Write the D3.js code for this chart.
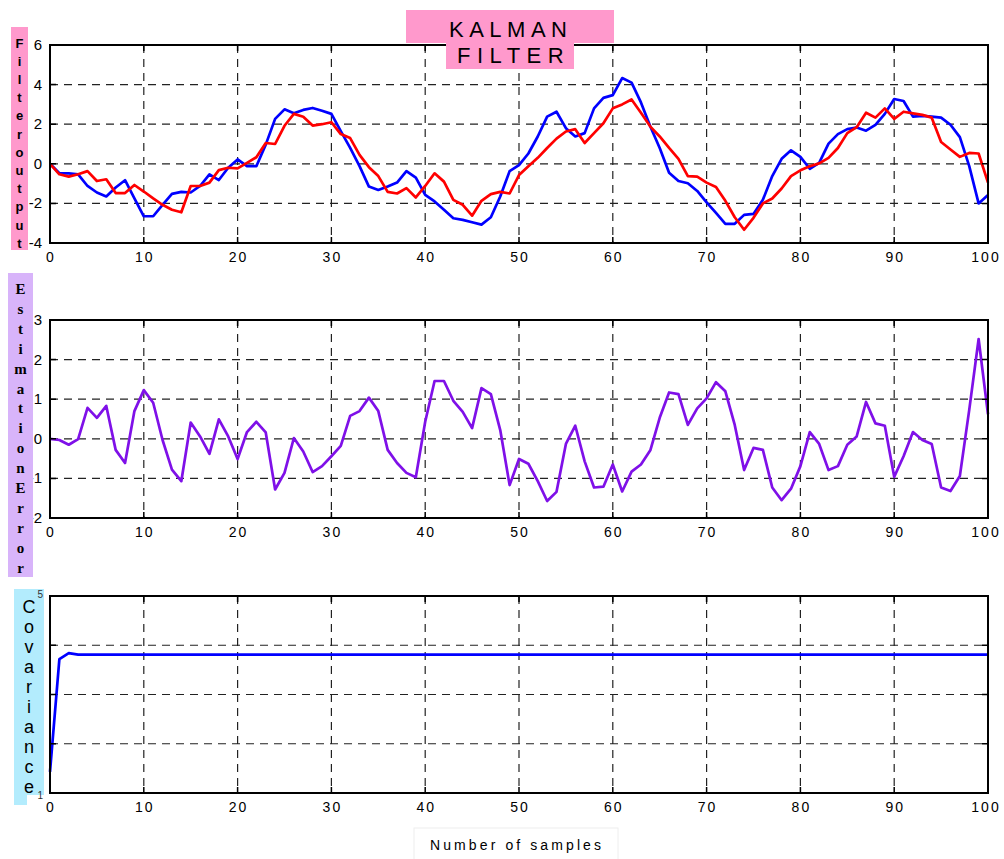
<!DOCTYPE html>
<html>
<head>
<meta charset="utf-8">
<script src="https://cdn.jsdelivr.net/npm/d3@7"></script>
<style>
  body { margin: 0; background: #fff; }
  svg { display: block; }
</style>
</head>
<body>
<svg></svg>
<script>
// filter output, blue = measured, red = filtered
const filterBlue = [
    0, -0.48, -0.48, -0.53, -1.12, -1.45, -1.65, -1.2, -0.83, -1.75,
    -2.65, -2.65, -2.07, -1.52, -1.42, -1.45, -1.12, -0.53, -0.82, -0.2,
    0.22, -0.12, -0.12, 0.97, 2.27, 2.75, 2.55, 2.72, 2.82, 2.68,
    2.52, 1.65, 0.8, -0.12, -1.15, -1.32, -1.15, -0.95, -0.37, -0.7,
    -1.57, -1.9, -2.32, -2.75, -2.83, -2.95, -3.07, -2.7, -1.65, -0.37,
    -0.07, 0.52, 1.38, 2.38, 2.63, 1.8, 1.38, 1.55, 2.8, 3.33,
    3.47, 4.33, 4.1, 3.1, 1.88, 0.8, -0.45, -0.87, -0.98, -1.37,
    -1.95, -2.48, -3.03, -3.03, -2.58, -2.53, -1.82, -0.62, 0.25, 0.68,
    0.35, -0.25, 0.05, 1.02, 1.5, 1.75, 1.83, 1.67, 1.97, 2.52,
    3.27, 3.17, 2.38, 2.42, 2.38, 2.33, 1.97, 1.35, -0.12, -2.0,
    -1.58
];
const filterRed = [
    0, -0.53, -0.65, -0.53, -0.37, -0.87, -0.78, -1.48, -1.48, -1.07,
    -1.4, -1.75, -2.07, -2.32, -2.45, -1.12, -1.12, -0.95, -0.32, -0.2,
    -0.23, 0.05, 0.33, 1.05, 1.0, 1.92, 2.52, 2.38, 1.93, 2.0,
    2.1, 1.5, 1.3, 0.45, -0.17, -0.62, -1.42, -1.5, -1.23, -1.7,
    -1.12, -0.48, -0.9, -1.82, -2.07, -2.62, -1.87, -1.53, -1.42, -1.5,
    -0.57, -0.12, 0.3, 0.8, 1.27, 1.63, 1.75, 1.05, 1.55, 2.05,
    2.8, 3.0, 3.25, 2.58, 1.88, 1.38, 0.8, 0.25, -0.62, -0.65,
    -0.95, -1.17, -1.87, -2.7, -3.33, -2.73, -2.0, -1.75, -1.25, -0.62,
    -0.33, -0.12, 0.02, 0.3, 0.8, 1.55, 1.85, 2.58, 2.33, 2.8,
    2.27, 2.63, 2.55, 2.47, 2.33, 1.1, 0.72, 0.35, 0.55, 0.52,
    -0.95
];
const estError = [
    0, -0.03, -0.15, -0.01, 0.78, 0.53, 0.83, -0.28, -0.61, 0.7,
    1.23, 0.91, -0.03, -0.78, -1.07, 0.41, 0.06, -0.38, 0.49, 0.06,
    -0.51, 0.17, 0.43, 0.16, -1.28, -0.86, 0.02, -0.32, -0.84, -0.69,
    -0.44, -0.18, 0.58, 0.7, 1.04, 0.7, -0.28, -0.61, -0.86, -0.97,
    0.43, 1.46, 1.46, 0.96, 0.68, 0.27, 1.28, 1.13, 0.22, -1.17,
    -0.51, -0.63, -1.07, -1.57, -1.34, -0.13, 0.33, -0.57, -1.23, -1.21,
    -0.65, -1.33, -0.83, -0.65, -0.29, 0.53, 1.17, 1.13, 0.35, 0.77,
    1.02, 1.43, 1.2, 0.35, -0.79, -0.23, -0.28, -1.23, -1.55, -1.26,
    -0.69, 0.17, -0.13, -0.79, -0.69, -0.15, 0.06, 0.93, 0.39, 0.33,
    -0.96, -0.44, 0.17, -0.03, -0.13, -1.23, -1.32, -0.94, 0.73, 2.52,
    0.62
];
const covariance = [
    0.143, 0.372, 0.384, 0.381, 0.381, 0.381, 0.381, 0.381, 0.381, 0.381,
    0.381, 0.381, 0.381, 0.381, 0.381, 0.381, 0.381, 0.381, 0.381, 0.381,
    0.381, 0.381, 0.381, 0.381, 0.381, 0.381, 0.381, 0.381, 0.381, 0.381,
    0.381, 0.381, 0.381, 0.381, 0.381, 0.381, 0.381, 0.381, 0.381, 0.381,
    0.381, 0.381, 0.381, 0.381, 0.381, 0.381, 0.381, 0.381, 0.381, 0.381,
    0.381, 0.381, 0.381, 0.381, 0.381, 0.381, 0.381, 0.381, 0.381, 0.381,
    0.381, 0.381, 0.381, 0.381, 0.381, 0.381, 0.381, 0.381, 0.381, 0.381,
    0.381, 0.381, 0.381, 0.381, 0.381, 0.381, 0.381, 0.381, 0.381, 0.381,
    0.381, 0.381, 0.381, 0.381, 0.381, 0.381, 0.381, 0.381, 0.381, 0.381,
    0.381, 0.381, 0.381, 0.381, 0.381, 0.381, 0.381, 0.381, 0.381, 0.381,
    0.381
];

const xTicks = [0, 10, 20, 30, 40, 50, 60, 70, 80, 90, 100];
const filterTicks = [6, 4, 2, 0, -2, -4];
const errorTicks = [3, 2, 1, 0, -1, -2];
const covTicks = [0.5, 0.4, 0.3, 0.2, 0.1];

const titleLines = ["KALMAN", "FILTER"];
const xLabel = "Number of samples";

var svgWidth = 1004,
    svgHeight = 859;

var svg = d3.select("svg")
    .attr("width", svgWidth)
    .attr("height", svgHeight);

svg.append("rect").attr("width", svgWidth).attr("height", svgHeight).attr("fill", "#fff");

// same x scale for all three panels
var x = d3.scaleLinear().domain([0, 100]).range([50, 988]);

var line = (y) => d3.line()
    .x((d, i) => x(i))
    .y((d) => y(d));

function panel(top, bottom, domain, ticks, series, showYLabels) {
    var y = d3.scaleLinear().domain(domain).range([bottom, top]);
    var g = svg.append("g");

    // grid
    g.selectAll(".vgrid")
        .data(xTicks.slice(1, -1))
        .enter().append("line")
        .attr("x1", d => x(d)).attr("x2", d => x(d))
        .attr("y1", top).attr("y2", bottom)
        .attr("stroke", "#222").attr("stroke-width", 1.2)
        .attr("stroke-dasharray", "8,6");
    g.selectAll(".hgrid")
        .data(ticks.slice(1, -1))
        .enter().append("line")
        .attr("x1", x(0)).attr("x2", x(100))
        .attr("y1", d => y(d)).attr("y2", d => y(d))
        .attr("stroke", "#222").attr("stroke-width", 1.2)
        .attr("stroke-dasharray", "8,6");

    // lines
    series.forEach(s => {
        g.append("path")
            .attr("fill", "none")
            .attr("stroke", s.color)
            .attr("stroke-width", 2.7)
            .attr("stroke-linejoin", "round")
            .attr("d", line(y)(s.values));
    });

    // frame and inner ticks
    g.append("rect")
        .attr("x", x(0)).attr("y", top)
        .attr("width", x(100) - x(0)).attr("height", bottom - top)
        .attr("fill", "none").attr("stroke", "#000").attr("stroke-width", 2);

    g.selectAll(".xt").data(xTicks).enter().append("path")
        .attr("d", d => `M${x(d)},${bottom}v-6M${x(d)},${top}v6`)
        .attr("stroke", "#000").attr("stroke-width", 1.5);
    g.selectAll(".yt").data(ticks).enter().append("path")
        .attr("d", d => `M${x(0)},${y(d)}h6M${x(100)},${y(d)}h-6`)
        .attr("stroke", "#000").attr("stroke-width", 1.5);

    // tick labels
    g.selectAll(".xl").data(xTicks).enter().append("text")
        .attr("x", d => x(d) + (d === 100 ? -2 : 1))
        .attr("y", bottom + 19)
        .attr("text-anchor", "middle")
        .attr("font-family", "Liberation Sans, Arial, sans-serif")
        .attr("font-size", 14)
        .attr("letter-spacing", 2)
        .text(d => d);
    if (showYLabels) {
        g.selectAll(".yl").data(ticks).enter().append("text")
            .attr("x", 42)
            .attr("y", d => y(d) + 5)
            .attr("text-anchor", "end")
            .attr("font-family", "Liberation Sans, Arial, sans-serif")
            .attr("font-size", 15)
            .text(d => d);
    }
    return y;
}

panel(45, 243, [-4, 6], filterTicks, [
    { color: "#0000ff", values: filterBlue },
    { color: "#ff0000", values: filterRed }
], true);
panel(320, 518, [-2, 3], errorTicks, [
    { color: "#7f10e8", values: estError }
], true);
var yCov = panel(596, 793, [0.1, 0.5], covTicks, [
    { color: "#0000ff", values: covariance }
], false);

// vertical axis titles, one letter per line
function sideLabel(text, box, cx, y0, step, font) {
    svg.append("rect")
        .attr("x", box[0]).attr("y", box[1])
        .attr("width", box[2]).attr("height", box[3])
        .attr("fill", box[4]);
    svg.append("g").selectAll("text")
        .data(text.split(""))
        .enter().append("text")
        .attr("x", cx)
        .attr("y", (d, i) => y0 + i * step)
        .attr("text-anchor", "middle")
        .attr("dominant-baseline", "central")
        .attr("font-family", font.family)
        .attr("font-weight", font.weight)
        .attr("font-size", font.size)
        .text(d => d);
}

sideLabel("Filteroutput", [11, 27, 17, 223, "#ff99cc"], 19.5, 43, 18.2,
    { family: "Liberation Sans, Arial, sans-serif", weight: "bold", size: 13 });
sideLabel("EstimationError", [8, 273, 25, 304, "#d8b4fa"], 20.5, 289, 19.9,
    { family: "Liberation Serif, Times New Roman, serif", weight: "bold", size: 15 });
sideLabel("Covariance", [14, 589, 30, 206, "#b3ecfd"], 29, 607, 20,
    { family: "Liberation Sans, Arial, sans-serif", weight: "normal", size: 18 });
svg.append("rect").attr("x", 14).attr("y", 794).attr("width", 13).attr("height", 11).attr("fill", "#b3ecfd");

// covariance tick labels are hidden behind the box, only the last digit peeks out
svg.selectAll(".covl").data([covTicks[0], covTicks[covTicks.length - 1]]).enter().append("text")
    .attr("x", 43)
    .attr("y", (d, i) => yCov(d) + (i === 0 ? 2 : 6))
    .attr("text-anchor", "end")
    .attr("font-family", "Liberation Sans, Arial, sans-serif")
    .attr("font-size", 10)
    .attr("fill", "#333")
    .text(d => String(d).slice(-1));

// title boxes
svg.append("rect").attr("x", 406).attr("y", 10).attr("width", 208).attr("height", 33).attr("fill", "#ff99cc");
svg.append("rect").attr("x", 446).attr("y", 43).attr("width", 128).attr("height", 26).attr("fill", "#ff99cc");
svg.selectAll(".title").data(titleLines).enter().append("text")
    .attr("x", (d, i) => i === 0 ? 449 : 457)
    .attr("y", (d, i) => i === 0 ? 37 : 63)
    .attr("font-family", "Liberation Sans, Arial, sans-serif")
    .attr("font-size", 22)
    .attr("letter-spacing", (d, i) => i === 0 ? 5.5 : 6.5)
    .text(d => d);

// x axis title
svg.append("rect").attr("x", 414).attr("y", 828).attr("width", 204).attr("height", 40)
    .attr("fill", "#fff").attr("stroke", "#eee");
svg.append("text")
    .attr("x", 430).attr("y", 850)
    .attr("font-family", "Liberation Sans, Arial, sans-serif")
    .attr("font-size", 14)
    .attr("letter-spacing", 3.1)
    .text(xLabel);
</script>
</body>
</html>
